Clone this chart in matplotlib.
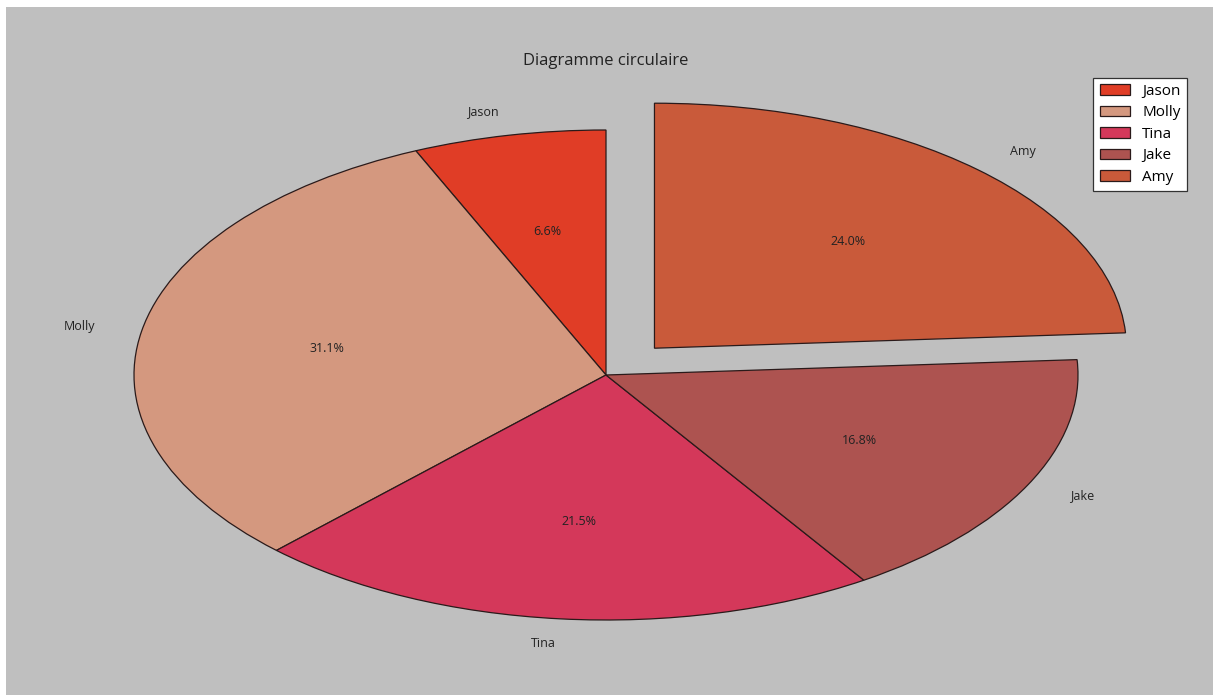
import matplotlib.pyplot as plt
from matplotlib.patches import Rectangle

plt.rcParams['font.family'] = ['Open Sans', 'DejaVu Sans']

# data
names = ['Jason', 'Molly', 'Tina', 'Jake', 'Amy']
shares = [6.6, 31.1, 21.5, 16.8, 24.0]
explode = [0, 0, 0, 0, 0.15]
colors = ['#e03d26', '#d4987f', '#d4385a', '#ad5350', '#c95a3a']

W, H = 1213, 695
fig = plt.figure(figsize=(W / 100, H / 100), dpi=100, facecolor='#bfbfbf')
# thin white margin at the top and left, as in the reference
fig.patches.append(Rectangle((0, 0), 6 / W, 1, transform=fig.transFigure,
                             facecolor='white', edgecolor='none', zorder=-10))
fig.patches.append(Rectangle((0, 1 - 7 / H), 1, 7 / H, transform=fig.transFigure,
                             facecolor='white', edgecolor='none', zorder=-10))

# axes placed so the ellipse centre sits at (606, 375) px
rx, ry = 472, 245
cx, cy = 606, 375
ax = fig.add_axes([(cx - 1.25 * rx) / W, (H - cy - 1.25 * ry) / H,
                   2.5 * rx / W, 2.5 * ry / H])
ax.patch.set_visible(False)

wedges, texts, autotexts = ax.pie(
    shares, labels=names, colors=colors, explode=explode,
    autopct='%1.1f%%', startangle=90, counterclock=True,
    wedgeprops={'edgecolor': '#2a1a1a', 'linewidth': 0.9},
    textprops={'fontsize': 9, 'color': '#222222'})
ax.set_aspect('auto')
ax.set_xlim(-1.25, 1.25)
ax.set_ylim(-1.25, 1.25)
ax.axis('off')

ax.set_title('Diagramme circulaire', fontsize=12, color='#222222', pad=2)

leg = ax.legend(wedges, names, loc='upper right', fontsize=11,
                fancybox=False, framealpha=1, edgecolor='#333333',
                borderaxespad=0.6, handlelength=2.0, labelspacing=0.42)
leg.get_frame().set_linewidth(0.9)

fig.savefig('out.png', dpi=100, facecolor=fig.get_facecolor())
